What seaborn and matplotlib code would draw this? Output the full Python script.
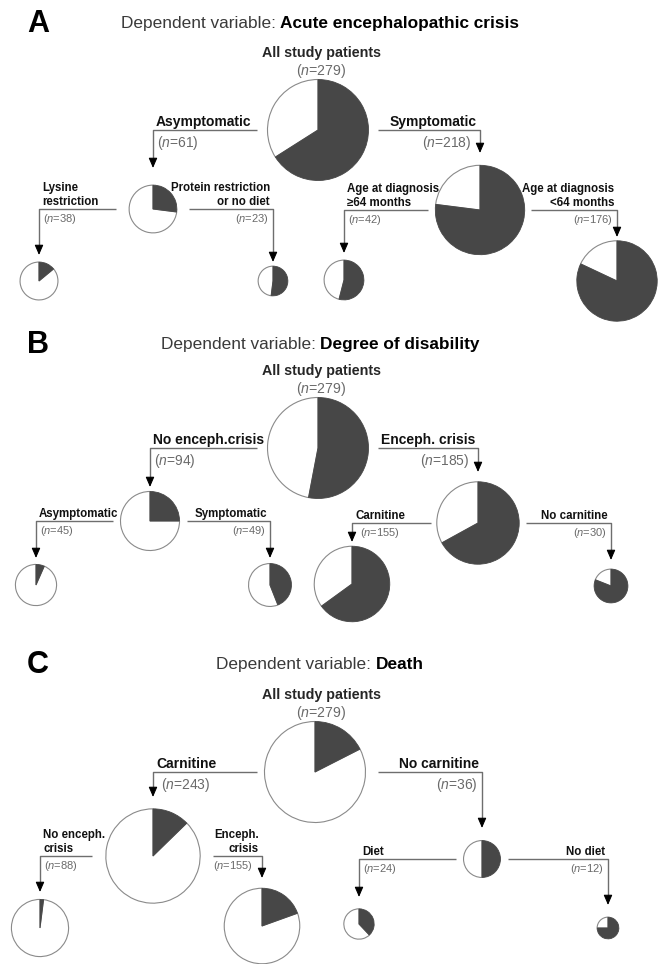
import numpy as np
import matplotlib
matplotlib.use("Agg")
import matplotlib.pyplot as plt
import seaborn as sns

# =====================================================
# DATA  (share of dark slice = outcome present)
# =====================================================

panel_letters = ["A", "B", "C"]
panel_topics = ["Acute encephalopathic crisis", "Degree of disability", "Death"]

# node order: root, left, right, left-left, left-right, right-left, right-right
a_labels = ["All study patients", "Asymptomatic", "Symptomatic",
            "Lysine\nrestriction", "Protein restriction\nor no diet",
            "Age at diagnosis\n≥64 months", "Age at diagnosis\n<64 months"]
a_n = [279, 61, 218, 38, 23, 42, 176]
a_dark = [0.66, 0.27, 0.77, 0.14, 0.52, 0.54, 0.82]

b_labels = ["All study patients", "No enceph.crisis", "Enceph. crisis",
            "Asymptomatic", "Symptomatic", "Carnitine", "No carnitine"]
b_n = [279, 94, 185, 45, 49, 155, 30]
b_dark = [0.53, 0.25, 0.67, 0.066, 0.44, 0.65, 0.81]

c_labels = ["All study patients", "Carnitine", "No carnitine",
            "No enceph.\ncrisis", "Enceph.\ncrisis", "Diet", "No diet"]
c_n = [279, 243, 36, 88, 155, 24, 12]
c_dark = [0.175, 0.127, 0.5, 0.02, 0.195, 0.38, 0.75]

# =====================================================
# LAYOUT (pixel coordinates, y downwards)
# =====================================================

W, H = 662, 964
title_y = [22, 343, 663]

a_xy = [(318, 130), (153, 209), (480, 210), (39, 281), (273, 281), (344, 280), (617, 281)]
a_line_x = [None, 257, 378, 116, 189, 428, 531]
a_tip_y = [None, 168, 153, 255, 262, 253, 237]

b_xy = [(318, 448), (150, 521), (478, 523), (36, 585), (270, 585), (352, 584), (611, 586)]
b_line_x = [None, 257, 378, 113, 187, 431, 526]
b_tip_y = [None, 487, 472, 558, 558, 542, 560]

c_xy = [(315, 772), (153, 856), (482, 859), (40, 928), (262, 926), (359, 924), (608, 928)]
c_line_x = [None, 257, 378, 92, 213, 456, 508]
c_tip_y = [None, 797, 828, 892, 878, 897, 905]

parent = [None, 0, 0, 1, 1, 2, 2]
side = [None, "L", "R", "L", "R", "L", "R"]

DARK = "#474747"
EDGE = "#8a8a8a"
LINE = "#6e6e6e"
NCOL = "#6a6a6a"

# =====================================================
# STYLE
# =====================================================

sns.set_theme(style="white")
plt.rcParams["font.family"] = ["Liberation Sans", "DejaVu Sans"]
plt.rcParams["mathtext.fontset"] = "custom"
plt.rcParams["mathtext.rm"] = "Liberation Sans"
plt.rcParams["mathtext.it"] = "Liberation Sans:italic"

fig = plt.figure(figsize=(W / 100, H / 100), dpi=100)
ax = fig.add_axes([0, 0, 1, 1])
renderer = fig.canvas.get_renderer()


def n_text(n):
    return r"($\mathit{n}$=%d)" % n


def radius(n):
    return 50 * np.sqrt(n / 279) + 0.5


def draw_pie(x, y, n, dark):
    wedges, _ = ax.pie(
        [dark, 1 - dark],
        center=(x, y),
        radius=radius(n),
        startangle=-90,
        counterclock=True,
        colors=[DARK, "white"],
        frame=True
    )
    wedges[0].set_edgecolor(DARK)
    wedges[0].set_linewidth(0.6)
    wedges[0].set_zorder(3)
    wedges[1].set_edgecolor(EDGE)
    wedges[1].set_linewidth(0.8)
    wedges[1].set_zorder(2)


panels = [
    (a_labels, a_n, a_dark, a_xy, a_line_x, a_tip_y),
    (b_labels, b_n, b_dark, b_xy, b_line_x, b_tip_y),
    (c_labels, c_n, c_dark, c_xy, c_line_x, c_tip_y),
]

for k, (labels, ns, darks, xy, line_x, tip_y) in enumerate(panels):

    # title
    ty = title_y[k]
    ax.text(27, ty + 2, panel_letters[k], fontsize=22, weight="bold",
            ha="left", va="center", color="black")
    t1 = ax.text(0, ty + 6, "Dependent variable:", fontsize=12.4,
                 color="#3a3a3a", va="baseline", ha="left")
    t2 = ax.text(0, ty + 6, panel_topics[k], fontsize=12.4, weight="bold",
                 color="black", va="baseline", ha="left")
    w1 = t1.get_window_extent(renderer).width
    w2 = t2.get_window_extent(renderer).width
    x0 = 320 - (w1 + 4.5 + w2) / 2
    t1.set_x(x0)
    t2.set_x(x0 + w1 + 4.5)

    # root
    rx, ry = xy[0]
    top = ry - radius(ns[0])
    ax.text(321, top - 26, labels[0], fontsize=10.3, weight="bold",
            ha="center", va="center")
    ax.text(321, top - 9, n_text(ns[0]), fontsize=10.2, color=NCOL,
            ha="center", va="center")
    draw_pie(rx, ry, ns[0], darks[0])

    # branches
    for i in range(1, 7):
        px, py = xy[parent[i]]
        cx, cy = xy[i]
        tip = tip_y[i]
        level1 = i <= 2

        ax.plot([line_x[i], cx, cx], [py, py, tip - 4],
                color=LINE, lw=1.0, solid_capstyle="butt", zorder=1)
        ax.annotate(
            "", xy=(cx, tip), xytext=(cx, tip - 8),
            arrowprops=dict(arrowstyle="-|>,head_length=0.6,head_width=0.26",
                            color="black", lw=0.8, shrinkA=0, shrinkB=0,
                            mutation_scale=10),
            zorder=4
        )

        fs_lab = 10 if level1 else 8.3
        fs_n = 10 if level1 else 8
        n_off = 17 if level1 else 13
        clash = (tip - 9) < (py + n_off + 2)

        if side[i] == "L":
            lx, ha = cx + 3, "left"
            nx = cx + (8 if clash else 4)
        else:
            lx, ha = cx - 3, "right"
            nx = cx - (9 if clash else 4)

        ax.text(lx, py - 1, labels[i], fontsize=fs_lab, weight="bold",
                ha=ha, va="bottom", linespacing=1.2, color="#111111")
        ax.text(nx, py + n_off, n_text(ns[i]), fontsize=fs_n, color=NCOL,
                ha=ha, va="baseline")

        draw_pie(cx, cy, ns[i], darks[i])

ax.set_xlim(0, W)
ax.set_ylim(H, 0)
ax.set_axis_off()

fig.savefig("out.png", dpi=100, facecolor="white")
